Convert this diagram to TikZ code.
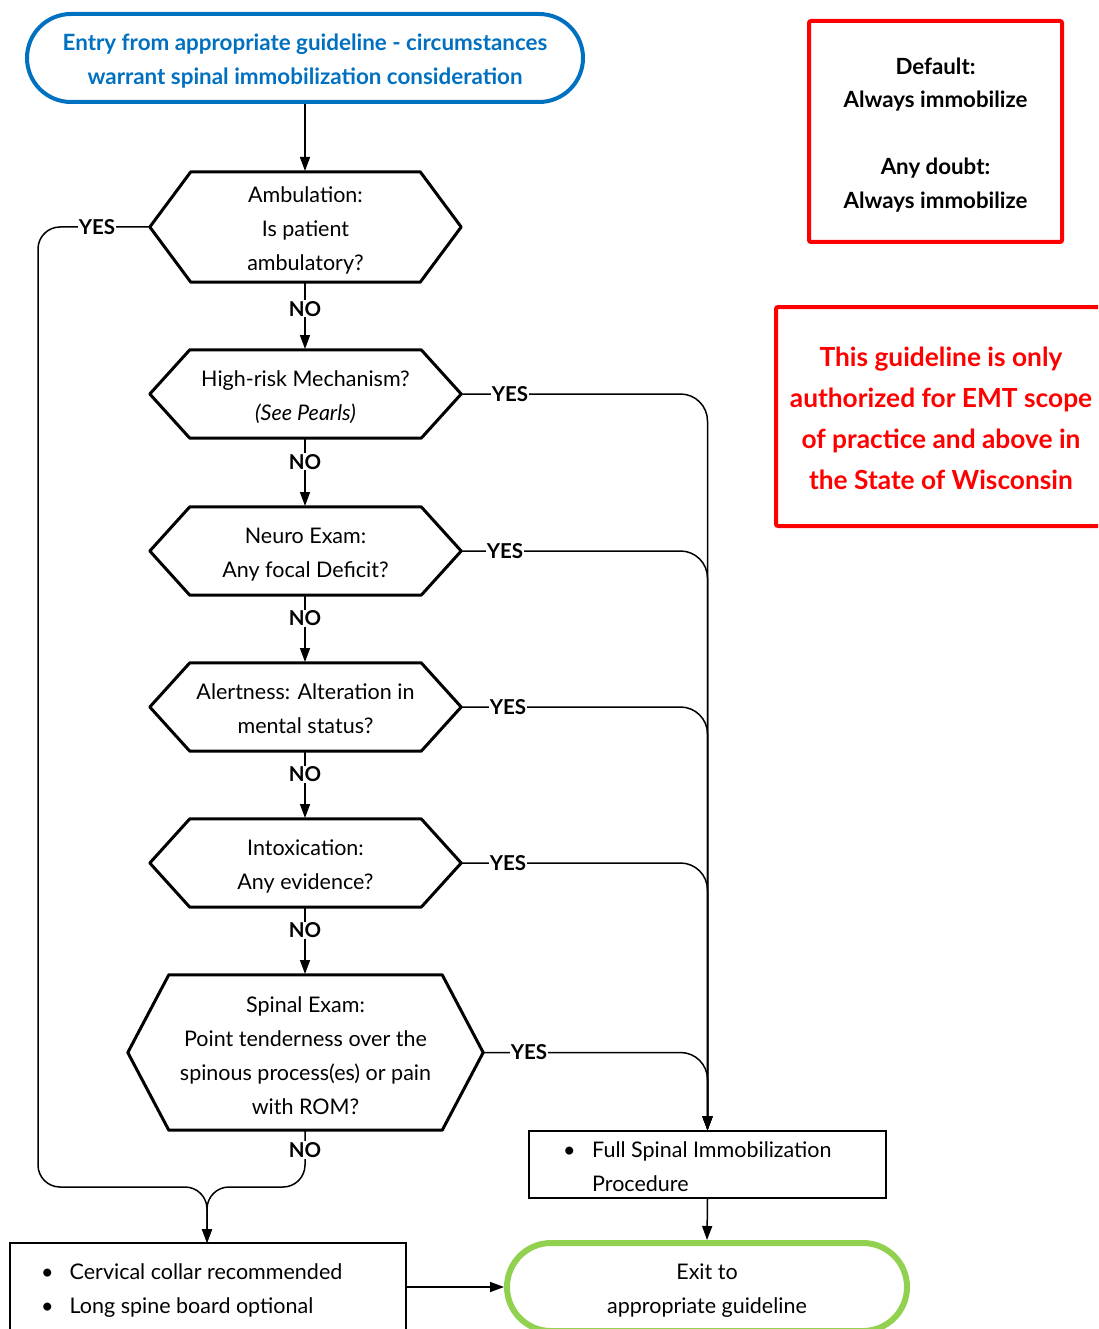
\documentclass[tikz,border=0pt]{standalone}
\usepackage{fontspec}
\setmainfont{Lato}
\usetikzlibrary{arrows.meta}
\definecolor{entryblue}{HTML}{0070C0}
\definecolor{exitgreen}{HTML}{92D050}
\definecolor{warnred}{HTML}{FF0000}
\newcommand\hexpath[2]{\draw[hexline] (#1.west) -- ([xshift=#2]#1.north west) -- ([xshift=-#2]#1.north east) -- (#1.east) -- ([xshift=-#2]#1.south east) -- ([xshift=#2]#1.south west) -- cycle;}
\newcommand\tops[1]{\rule{0pt}{#1}}
\newcommand\bots[1]{\rule[-#1]{0pt}{0pt}}
\begin{document}
\begin{tikzpicture}[x=1pt,y=-1pt,
  txt/.style={font=\fontsize{21.5}{34}\selectfont, align=center, inner sep=0},
  hexnode/.style={txt, minimum width=311, minimum height=88},
  hexline/.style={line width=3pt, line join=round},
  conn/.style={line width=1.5pt},
  arr/.style={conn, -{Triangle[length=14pt,width=10pt]}},
  lbl/.style={font=\bfseries\fontsize{20.5}{24}\selectfont, fill=white, inner sep=1pt},
  plainbox/.style={draw, line width=1.5pt, inner sep=0},
  redbox/.style={draw=warnred, line width=4pt, rounded corners=2pt, inner sep=0},
]
\path[use as bounding box] (0,0) rectangle (1098,1329);
\clip (0,0) rectangle (1098,1329);

% entry
\node[draw=entryblue, line width=4pt, rounded corners=44pt, minimum width=556, minimum height=88,
  text=entryblue, font=\bfseries\fontsize{22.4}{34}\selectfont, align=center, inner sep=0]
  (entry) at (305,58) {\tops{24.5pt}Entry from appropriate guideline - circumstances\\warrant spinal immobilization consideration\bots{5pt}};

% info boxes
\node[redbox, minimum width=253, minimum height=221, font=\bfseries\fontsize{22.3}{33.5}\selectfont, align=center]
  (def) at (935.5,131.5) {\tops{24.5pt}Default:\\Always immobilize\\[33.5pt]Any doubt:\\Always immobilize\bots{5pt}};
\node[redbox, minimum width=330, minimum height=219, text=warnred, font=\bfseries\fontsize{26.3}{41}\selectfont, align=center]
  (auth) at (941,416.5) {\tops{27.5pt}This guideline is only\\authorized for EMT scope\\of practice and above in\\the State of Wisconsin\bots{4pt}};

% decision hexagons
\node[hexnode, minimum height=110] (h1) at (305.5,227) {\tops{23.5pt}Ambulation:\\Is patient\\ambulatory?\bots{5pt}};
\node[hexnode] (h2) at (305.5,394) {\tops{23.5pt}High-risk Mechanism?\\\itshape (See Pearls)\bots{5pt}};
\node[hexnode] (h3) at (305.5,551) {\tops{23.5pt}Neuro Exam:\\Any focal Deficit?\bots{5pt}};
\node[hexnode] (h4) at (305.5,707) {\tops{23.5pt}Alertness: Alteration in\\mental status?\bots{5pt}};
\node[hexnode] (h5) at (305.5,863) {\tops{23.5pt}Intoxication:\\Any evidence?\bots{5pt}};
\node[hexnode, minimum width=355, minimum height=155] (h6) at (305.5,1052.5) {\tops{25pt}Spinal Exam:\\Point tenderness over the\\spinous process(es) or pain\\with ROM?\bots{4pt}};
\hexpath{h1}{41}
\hexpath{h2}{40}
\hexpath{h3}{40}
\hexpath{h4}{40}
\hexpath{h5}{40}
\hexpath{h6}{41}

% action boxes
\node[plainbox, minimum width=357, minimum height=67] (fs) at (707.5,1164.5) {};
\node[txt, anchor=west] (fstext) at (563,1168) {\begin{tabular}{@{}l@{\hspace{16.5pt}}l@{}}\textbullet & Full Spinal Immobilization\\ & Procedure\end{tabular}};
\node[plainbox, minimum width=396, minimum height=88] (cc) at (208,1287) {};
\node[txt, anchor=west] (cctext) at (41,1290) {\begin{tabular}{@{}l@{\hspace{16pt}}l@{}}\textbullet & Cervical collar recommended\\\textbullet & Long spine board optional\end{tabular}};

% exit
\node[draw=exitgreen, line width=6pt, rounded corners=44pt, minimum width=400, minimum height=88, txt]
  (exit) at (707,1287) {\tops{23.5pt}Exit to\\appropriate guideline\bots{5pt}};

% main flow
\draw[arr] (entry.south) -- (305,171);
\draw[arr] (305,282) -- node[lbl, pos=0.4] (n1) {NO} (305,349);
\draw[arr] (305,439) -- node[lbl, pos=0.34] (n2) {NO} (305,506);
\draw[arr] (305,596) -- node[lbl, pos=0.34] (n3) {NO} (305,662);
\draw[arr] (305,752) -- node[lbl, pos=0.34] (n4) {NO} (305,818);
\draw[arr] (305,908) -- node[lbl, pos=0.34] (n5) {NO} (305,974);

% YES to full spinal
\foreach \h/\x in {h2/510,h3/505,h4/508,h5/508,h6/529}{
  \draw[arr, rounded corners=27pt] (\h.east) -- (\h.east -| fs.north) -- (fs.north);
  \node[lbl] (y\h) at (\x, 0 |- \h.east) {YES};
}

% YES from ambulation and NO from spinal exam to cervical collar
\draw[arr, rounded corners=22pt] (h1.west) -- (38,227) -- (38,1187) -- (207,1187) -- (207,1243);
\node[lbl] (y1) at (97,227) {YES};
\draw[arr, rounded corners=22pt] (305,1130) -- (305,1187) -- (207,1187) -- (207,1243);
\node[lbl] (n6) at (305,1150) {NO};

% to exit
\draw[arr] (fs.south) -- (exit.north);
\draw[arr] (cc.east) -- (exit.west);
\end{tikzpicture}
\end{document}
